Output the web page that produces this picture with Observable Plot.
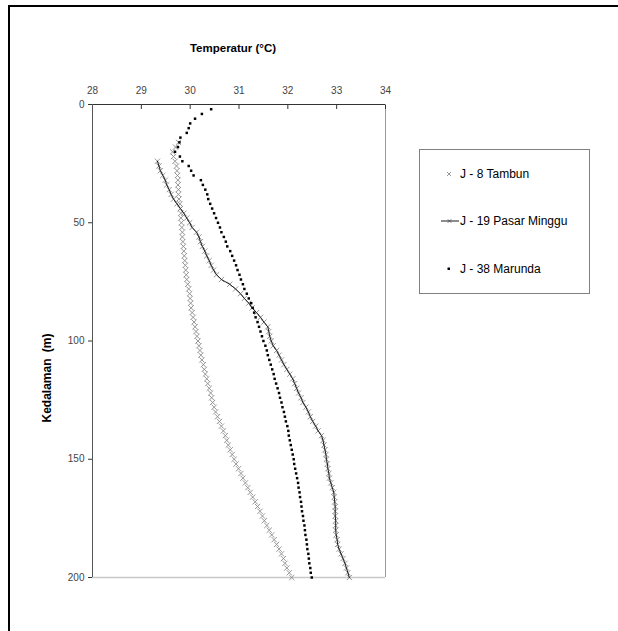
<!DOCTYPE html>
<html><head><meta charset="utf-8">
<script src="https://cdn.jsdelivr.net/npm/d3@7"></script>
<script src="https://cdn.jsdelivr.net/npm/@observablehq/plot@0.6"></script>
<style>
body{margin:0;background:#fff;font-family:"Liberation Sans",Arial,sans-serif;}
#wrap{position:relative;width:618px;height:631px;overflow:hidden;}
#frame{position:absolute;left:8px;top:5px;width:800px;height:800px;border-top:2px solid #000;border-left:2px solid #000;}
#chart{position:absolute;left:0;top:0;}
.title{position:absolute;left:233px;top:42px;transform:translateX(-50%);font-weight:bold;font-size:11.5px;white-space:nowrap;color:#000;}
.ylab{position:absolute;left:47px;top:378px;transform:translate(-50%,-50%) rotate(-90deg);font-weight:bold;font-size:12px;white-space:nowrap;color:#000;word-spacing:3px;}
#legend{position:absolute;left:419px;top:149px;width:169px;height:143px;border:1px solid #808080;background:#fff;}
.li{position:absolute;left:0;font-size:12px;color:#000;white-space:nowrap;line-height:12px;}
.sym{position:absolute;}
</style>
</head><body>
<div id="wrap">
  <div id="frame"></div>
  <div id="chart"></div>
  <div class="title">Temperatur (°C)</div>
  <div class="ylab">Kedalaman (m)</div>
  <div id="legend"></div>
</div>
<script>
// Tick labels
const xTicks = [28, 29, 30, 31, 32, 33, 34];
const yTicks = [0, 50, 100, 150, 200];
const seriesNames = ["J - 8 Tambun", "J - 19 Pasar Minggu", "J - 38 Marunda"];

// J - 8 Tambun: depth (m) and temperature (°C)
const tambunDepth = [16,18,20,22,24,26,28,30,32,34,36,38,40,42,44,46,48,50,52,54,56,58,60,62,64,66,68,70,72,74,76,78,80,82,84,86,88,90,92,94,96,98,100,102,104,106,108,110,112,114,116,118,120,122,124,126,128,130,132,134,136,138,140,142,144,146,148,150,152,154,156,158,160,162,164,166,168,170,172,174,176,178,180,182,184,186,188,190,192,194,196,198,200];
const tambunTemp = [29.76,29.70,29.64,29.66,29.69,29.72,29.73,29.74,29.75,29.75,29.76,29.76,29.77,29.79,29.80,29.81,29.81,29.82,29.83,29.84,29.84,29.85,29.86,29.87,29.88,29.89,29.90,29.91,29.92,29.93,29.95,29.97,29.99,30.00,30.01,30.02,30.04,30.06,30.08,30.10,30.12,30.14,30.16,30.18,30.20,30.22,30.24,30.27,30.29,30.31,30.34,30.36,30.39,30.42,30.44,30.46,30.49,30.52,30.56,30.60,30.64,30.68,30.72,30.75,30.78,30.82,30.86,30.90,30.94,30.99,31.04,31.08,31.13,31.18,31.23,31.28,31.33,31.38,31.43,31.48,31.52,31.57,31.62,31.67,31.72,31.77,31.82,31.87,31.91,31.94,31.98,32.03,32.08];

// J - 19 Pasar Minggu
const pasarDepth = [24,26,28,30,32,34,36,38,40,42,44,46,48,50,52,54,56,58,60,62,64,66,68,70,72,74,76,78,80,82,84,86,88,90,92,94,96,98,100,102,104,106,108,110,112,114,116,118,120,122,124,126,128,130,132,134,136,138,140,142,144,146,148,150,152,154,156,158,160,162,164,166,168,170,172,174,176,178,180,182,184,186,188,190,192,194,196,198,200];
const pasarTemp = [29.33,29.36,29.39,29.44,29.49,29.52,29.57,29.61,29.66,29.73,29.80,29.87,29.93,29.99,30.04,30.13,30.18,30.21,30.25,30.30,30.34,30.39,30.43,30.48,30.54,30.64,30.81,30.93,31.03,31.11,31.20,31.27,31.36,31.44,31.51,31.59,31.61,31.63,31.66,31.70,31.77,31.82,31.87,31.92,31.98,32.04,32.10,32.14,32.18,32.22,32.27,32.31,32.37,32.42,32.46,32.51,32.57,32.62,32.69,32.72,32.74,32.76,32.78,32.79,32.81,32.82,32.84,32.85,32.88,32.91,32.94,32.95,32.96,32.97,32.97,32.97,32.98,32.98,32.98,32.99,33.01,33.02,33.05,33.09,33.13,33.17,33.20,33.23,33.26];

// J - 38 Marunda
const marundaDepth = [2,4,6,8,10,12,14,16,18,20,22,24,26,28,30,32,34,36,38,40,42,44,46,48,50,52,54,56,58,60,62,64,66,68,70,72,74,76,78,80,82,84,86,88,90,92,94,96,98,100,102,104,106,108,110,112,114,116,118,120,122,124,126,128,130,132,134,136,138,140,142,144,146,148,150,152,154,156,158,160,162,164,166,168,170,172,174,176,178,180,182,184,186,188,190,192,194,196,198,200];
const marundaTemp = [30.43,30.24,30.10,30.00,29.97,29.93,29.80,29.78,29.75,29.69,29.79,29.84,29.97,30.02,30.07,30.22,30.26,30.31,30.35,30.37,30.41,30.45,30.49,30.53,30.57,30.61,30.64,30.69,30.73,30.76,30.82,30.86,30.90,30.94,30.97,31.01,31.04,31.08,31.11,31.16,31.20,31.25,31.28,31.31,31.34,31.38,31.41,31.44,31.47,31.50,31.54,31.57,31.59,31.62,31.65,31.68,31.71,31.73,31.76,31.79,31.82,31.84,31.87,31.89,31.92,31.94,31.96,31.99,32.01,32.02,32.04,32.06,32.08,32.10,32.12,32.13,32.15,32.17,32.19,32.21,32.22,32.24,32.25,32.27,32.28,32.29,32.31,32.32,32.34,32.35,32.36,32.38,32.39,32.40,32.42,32.43,32.44,32.46,32.47,32.49];

const toRows = (ds, ts) => ds.map((d, i) => ({d, t: ts[i]}));
const tambun = toRows(tambunDepth, tambunTemp);
const pasar = toRows(pasarDepth, pasarTemp);
const marunda = toRows(marundaDepth, marundaTemp);

const chart = Plot.plot({
  width: 618, height: 631,
  marginLeft: 92, marginRight: 233, marginTop: 104, marginBottom: 54,
  style: {fontFamily: "'Liberation Sans', Arial, sans-serif", fontSize: "10px", background: "transparent", color: "#333"},
  x: {domain: [28, 34]},
  y: {domain: [0, 200], reverse: true},
  marks: [
    Plot.ruleY([200], {stroke: "#c8c8c8", strokeWidth: 1.5}),
    Plot.ruleX([34], {stroke: "#999"}),
    Plot.axisX({anchor: "top", ticks: xTicks, tickSize: -4, tickPadding: 15, label: null, tickFormat: d => d, stroke: "#333", fill: "#444"}),
    Plot.axisY({anchor: "left", ticks: yTicks, tickSize: 4, tickPadding: 4, label: null, tickFormat: d => d, stroke: "#333", fill: "#444"}),
    Plot.ruleY([0], {stroke: "#333"}),
    Plot.ruleX([28], {stroke: "#555"}),
    Plot.dot(tambun, {x: "t", y: "d", symbol: "times", r: 2.5, stroke: "#8a8a8a", strokeWidth: 0.9}),
    Plot.dot(pasar, {x: "t", y: "d", symbol: "times", r: 2.5, stroke: "#8a8a8a", strokeWidth: 0.9}),
    Plot.line(pasar, {x: "t", y: "d", stroke: "#1a1a1a", strokeWidth: 1}),
    Plot.dot(marunda, {x: "t", y: "d", symbol: "square", r: 1.4, fill: "#000", stroke: "none"})
  ]
});
document.getElementById("chart").appendChild(chart);

// Legend
const legend = document.getElementById("legend");
const itemTop = [18, 65, 113];
const syms = [
  `<svg class="sym" style="left:24px;top:1px" width="10" height="10"><path d="M3,3L7,7M7,3L3,7" stroke="#8a8a8a" stroke-width="0.9"/></svg>`,
  `<svg class="sym" style="left:20px;top:1px" width="20" height="10"><path d="M7.5,3L11.5,7M11.5,3L7.5,7" stroke="#8a8a8a" stroke-width="0.9"/><path d="M1,5H19" stroke="#1a1a1a" stroke-width="1"/></svg>`,
  `<svg class="sym" style="left:24px;top:1px" width="10" height="10"><rect x="3.5" y="3.5" width="2.5" height="2.5" fill="#000"/></svg>`
];
seriesNames.forEach((name, i) => {
  const el = document.createElement("div");
  el.className = "li";
  el.style.top = (itemTop[i]) + "px";
  el.innerHTML = syms[i] + `<span style="position:absolute;left:40px;top:0">${name}</span>`;
  legend.appendChild(el);
});
</script>
</body></html>
